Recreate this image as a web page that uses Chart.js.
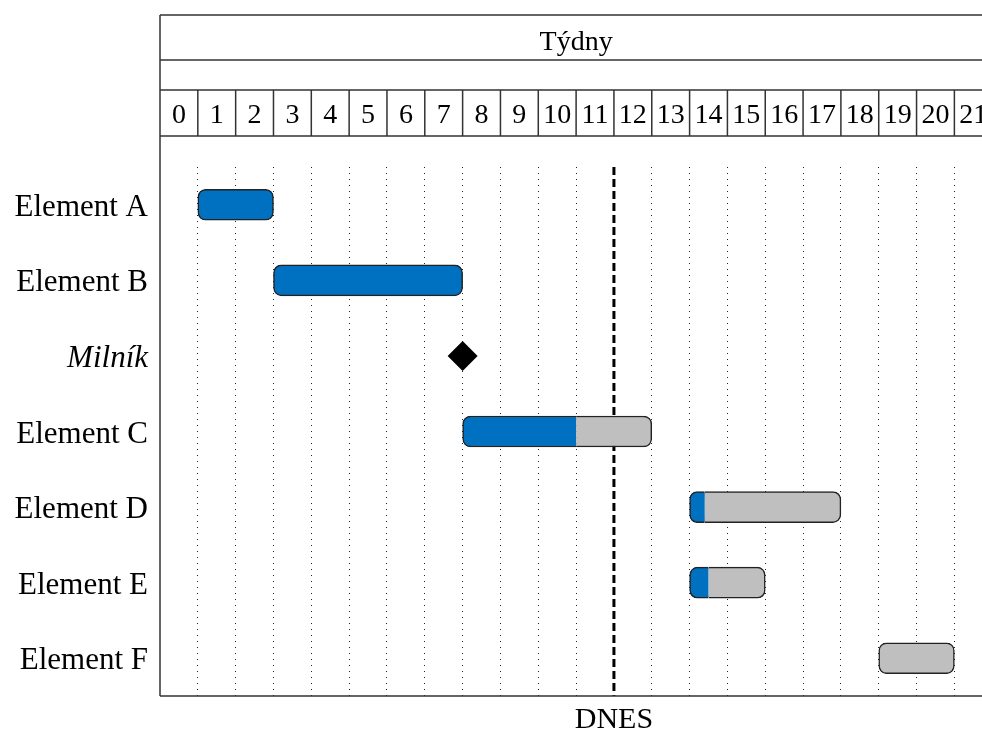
<!DOCTYPE html>
<html>
<head>
<meta charset="utf-8">
<script src="https://cdn.jsdelivr.net/npm/chart.js@4/dist/chart.umd.min.js"></script>
<style>
  html, body { margin: 0; padding: 0; background: #fff; overflow: hidden; }
  #wrap { position: relative; width: 982px; height: 731px; }
  #gantt { display: block; }
</style>
</head>
<body>
<div id="wrap"><canvas id="gantt" width="982" height="731"></canvas></div>
<script>
// rows, top to bottom
var tasks = ["Element A", "Element B", "Milník", "Element C", "Element D", "Element E", "Element F"];
// finished part of each task (blue), in weeks [start, end]
var doneParts = [[1, 3], [3, 8], null, [8, 11], [14, 14.4], [14, 14.5], null];
// remaining part (grey)
var leftParts = [null, null, null, [11, 13], [14.4, 18], [14.5, 16], [19, 21]];
var milestones = [{ x: 8, y: "Milník" }];
var weeks = [0, 1, 2, 3, 4, 5, 6, 7, 8, 9, 10, 11, 12, 13, 14, 15, 16, 17, 18, 19, 20, 21];
var today = 12;
var todayLabel = "DNES";
var headerTitle = "Týdny";

var serif = "'Liberation Serif', 'Times New Roman', serif";
Chart.defaults.font.family = serif;
Chart.defaults.color = "#000";

var blue = "rgb(0,112,192)";
var grey = "rgb(191,191,191)";
var edge = "#222";

// header (weeks), frame and "today" line
var ganttFrame = {
  id: "ganttFrame",
  beforeDatasetsDraw: function(chart) {
    var ctx = chart.ctx, a = chart.chartArea, x = chart.scales.x;
    var px = x.getPixelForValue(today);
    ctx.save();
    ctx.strokeStyle = "#000";
    ctx.lineWidth = 3;
    ctx.setLineDash([8, 4]);
    ctx.beginPath();
    ctx.moveTo(px, a.top);
    ctx.lineTo(px, a.bottom);
    ctx.stroke();
    ctx.restore();
  },
  afterDraw: function(chart) {
    var ctx = chart.ctx, a = chart.chartArea, x = chart.scales.x;
    var right = chart.width;
    // header rows relative to the top of the plot
    var yTitle = a.top - 152, ySpace = a.top - 107, yWeeks = a.top - 77, yEnd = a.top - 31;
    ctx.save();
    ctx.strokeStyle = "#333";
    ctx.lineWidth = 1.5;
    ctx.beginPath();
    [yTitle, ySpace, yWeeks, yEnd].forEach(function(y) {
      ctx.moveTo(a.left, y);
      ctx.lineTo(right, y);
    });
    ctx.moveTo(a.left, yTitle);
    ctx.lineTo(a.left, a.bottom);
    ctx.moveTo(a.left, a.bottom);
    ctx.lineTo(right, a.bottom);
    weeks.forEach(function(w) {
      if (w === 0) return;
      var p = x.getPixelForValue(w);
      ctx.moveTo(p, yWeeks);
      ctx.lineTo(p, yEnd);
    });
    ctx.stroke();

    ctx.fillStyle = "#000";
    ctx.textAlign = "center";
    ctx.textBaseline = "alphabetic";
    ctx.font = "28px " + serif;
    ctx.fillText(headerTitle, x.getPixelForValue(11), yTitle + 35);
    weeks.forEach(function(w) {
      ctx.fillText(String(w), x.getPixelForValue(w + 0.5), yEnd - 13);
    });
    ctx.font = "30px " + serif;
    ctx.fillText(todayLabel, x.getPixelForValue(today), a.bottom + 32);
    ctx.restore();
  }
};

new Chart("gantt", {
  type: "bar",
  data: {
    labels: tasks,
    datasets: [{
      label: "done",
      data: doneParts,
      backgroundColor: blue,
      borderColor: edge,
      borderWidth: 1.5,
      borderRadius: 8,
      borderSkipped: function(c) { return leftParts[c.dataIndex] ? "right" : false; },
      barThickness: 31,
      grouped: false,
      order: 2
    }, {
      label: "remaining",
      data: leftParts,
      backgroundColor: grey,
      borderColor: edge,
      borderWidth: 1.5,
      borderRadius: 8,
      borderSkipped: function(c) { return doneParts[c.dataIndex] ? "left" : false; },
      barThickness: 31,
      grouped: false,
      order: 2
    }, {
      type: "line",
      label: "milestone",
      data: milestones,
      showLine: false,
      pointStyle: "rectRot",
      pointRadius: 15,
      pointBackgroundColor: "#000",
      pointBorderWidth: 0,
      order: 1
    }]
  },
  options: {
    indexAxis: "y",
    responsive: false,
    animation: false,
    layout: { autoPadding: false, padding: { top: 167, bottom: 35, left: 0, right: 0 } },
    plugins: { legend: { display: false }, tooltip: { enabled: false } },
    scales: {
      x: {
        type: "linear",
        min: 0,
        max: 21.73,
        afterBuildTicks: function(s) { s.ticks = weeks.map(function(w) { return { value: w }; }); },
        ticks: { display: false },
        grid: {
          drawTicks: false,
          lineWidth: 1,
          color: function(c) { return c.tick && c.tick.value === 0 ? "rgba(0,0,0,0)" : "#222"; }
        },
        border: { display: false, dash: [1, 5] }
      },
      y: {
        type: "category",
        afterFit: function(s) { s.width = 160; },
        grid: { display: false, drawTicks: false },
        border: { display: false },
        ticks: {
          padding: 12,
          labelOffset: 3,
          color: "#000",
          font: function(c) {
            return { size: 31, family: serif, style: c.index === 2 ? "italic" : "normal" };
          }
        }
      }
    }
  },
  plugins: [ganttFrame]
});
</script>
</body>
</html>
